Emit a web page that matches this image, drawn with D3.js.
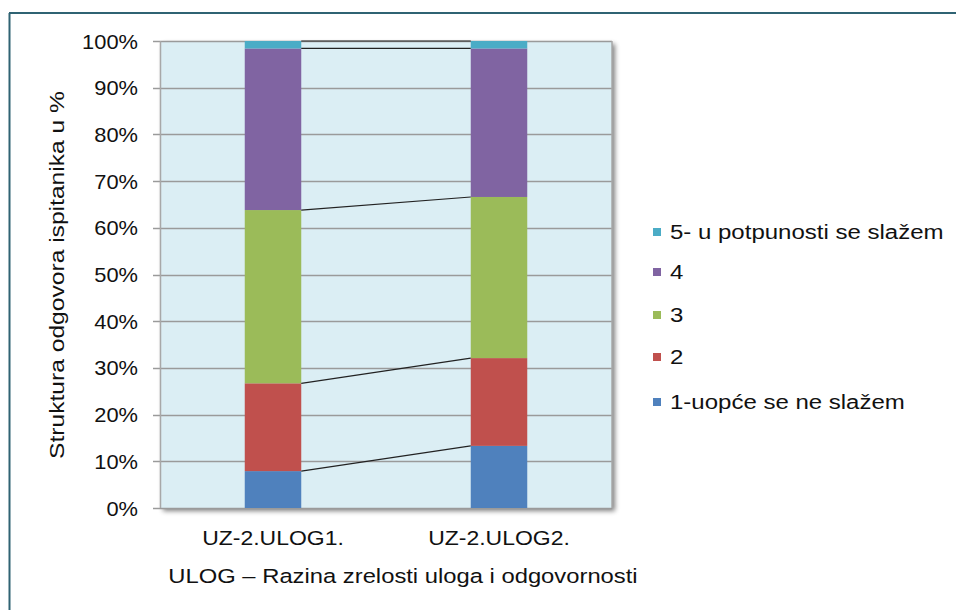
<!DOCTYPE html>
<html><head><meta charset="utf-8">
<script src="https://cdn.jsdelivr.net/npm/d3@7"></script>
<style>body{margin:0;background:#fff}svg{display:block}text{font-family:"Liberation Sans",Arial,sans-serif;fill:#111}</style>
</head><body>
<svg id="c" width="956" height="610"></svg>
<script>
const categories = ["UZ-2.ULOG1.", "UZ-2.ULOG2."];
const seriesNames = ["1-uopće se ne slažem", "2", "3", "4", "5- u potpunosti se slažem"];
const s1 = [7.9, 13.3];
const s2 = [18.8, 18.8];
const s3 = [37.1, 34.5];
const s4 = [34.6, 31.8];
const s5 = [1.6, 1.6];
const colors = ["#4F81BD", "#C0504D", "#9BBB59", "#8064A2", "#4BACC6"];
const yTicks = [0,10,20,30,40,50,60,70,80,90,100];
const yTitle = "Struktura odgovora ispitanika u %";
const xTitle = "ULOG – Razina zrelosti uloga i odgovornosti";

const svg = d3.select("#c");
function stretch(sel, f){
  sel.each(function(){
    const w=this.getComputedTextLength();
    d3.select(this).attr("textLength",w*f).attr("lengthAdjust","spacingAndGlyphs");
  });
}
// frame
svg.append("line").attr("x1",9.5).attr("x2",9.5).attr("y1",13).attr("y2",610).attr("stroke","#2F6373").attr("stroke-width",2);
svg.append("line").attr("x1",9).attr("x2",956).attr("y1",13).attr("y2",13).attr("stroke","#2F6373").attr("stroke-width",2);

const L=160,R=612,T=41,B=508;
const x = d3.scaleBand().domain(categories).range([L,R]).paddingInner(0.75).paddingOuter(0.375);
const y = d3.scaleLinear().domain([0,100]).range([B,T]);

// shadow
const defs = svg.append("defs");
const f = defs.append("filter").attr("id","sh").attr("x","-5%").attr("y","-5%").attr("width","115%").attr("height","115%");
f.append("feGaussianBlur").attr("in","SourceAlpha").attr("stdDeviation",2.5);
f.append("feOffset").attr("dx",3).attr("dy",3).attr("result","o");
f.append("feComponentTransfer").append("feFuncA").attr("type","linear").attr("slope",0.5);
const m=f.append("feMerge"); m.append("feMergeNode"); m.append("feMergeNode").attr("in","SourceGraphic");
svg.append("rect").attr("x",L).attr("y",T).attr("width",R-L).attr("height",B-T).attr("fill","#DBEEF4").attr("filter","url(#sh)");

// grid
svg.append("g").selectAll("line").data(yTicks).join("line")
  .attr("x1",L-7).attr("x2",R).attr("y1",d=>Math.round(y(d))+0.5).attr("y2",d=>Math.round(y(d))+0.5)
  .attr("stroke","#9A9A9A").attr("stroke-width",1.5);
svg.append("line").attr("x1",L+0.5).attr("x2",L+0.5).attr("y1",T).attr("y2",B).attr("stroke","#A8A8A8").attr("stroke-width",1.5);
svg.append("line").attr("x1",R).attr("x2",R).attr("y1",T).attr("y2",B).attr("stroke","#A8A8A8").attr("stroke-width",1.5);

// y axis labels
svg.append("g").selectAll("text").data(yTicks).join("text")
  .attr("x",138).attr("y",d=>y(d)).attr("dy","0.36em").attr("text-anchor","end")
  .attr("font-size",21).text(d=>d+"%").call(stretch,1.04);

// stack
const data = categories.map((c,i)=>({cat:c, a:s1[i], b:s2[i], c3:s3[i], d:s4[i], e:s5[i]}));
const keys=["a","b","c3","d","e"];
const stack = d3.stack().keys(keys)(data);
const g = svg.append("g");
stack.forEach((layer,k)=>{
  g.selectAll(null).data(layer).join("rect")
    .attr("x",d=>x(d.data.cat)).attr("width",x.bandwidth())
    .attr("y",d=>y(d[1])).attr("height",d=>y(d[0])-y(d[1]))
    .attr("fill",colors[k]);
});
// series lines
stack.forEach((layer)=>{
  const p0=layer[0], p1=layer[1];
  g.append("line")
    .attr("x1",x(categories[0])+x.bandwidth()).attr("y1",y(p0[1]))
    .attr("x2",x(categories[1])).attr("y2",y(p1[1]))
    .attr("stroke","#222").attr("stroke-width",1.2);
});

// x labels
svg.append("g").selectAll("text").data(categories).join("text")
  .attr("x",d=>x(d)+x.bandwidth()/2).attr("y",545).attr("text-anchor","middle")
  .attr("font-size",20.5).text(d=>d).call(stretch,1.12);
svg.append("text").attr("x",403).attr("y",583).attr("text-anchor","middle").attr("font-size",20.5).text(xTitle).call(stretch,1.16);
svg.append("text").attr("transform","translate(64,275) rotate(-90)").attr("text-anchor","middle").attr("font-size",20.5).text(yTitle).call(stretch,1.2);

// legend
const legY=[232,272,315,357,402];
const lg = svg.append("g");
const order=[4,3,2,1,0];
order.forEach((k,i)=>{
  lg.append("rect").attr("x",653).attr("y",legY[i]-4).attr("width",8).attr("height",8).attr("fill",colors[k]);
  lg.append("text").attr("x",670).attr("y",legY[i]).attr("dy","0.36em").attr("font-size",20).text(seriesNames[k]).call(stretch,1.2);
});
</script>
</body></html>
